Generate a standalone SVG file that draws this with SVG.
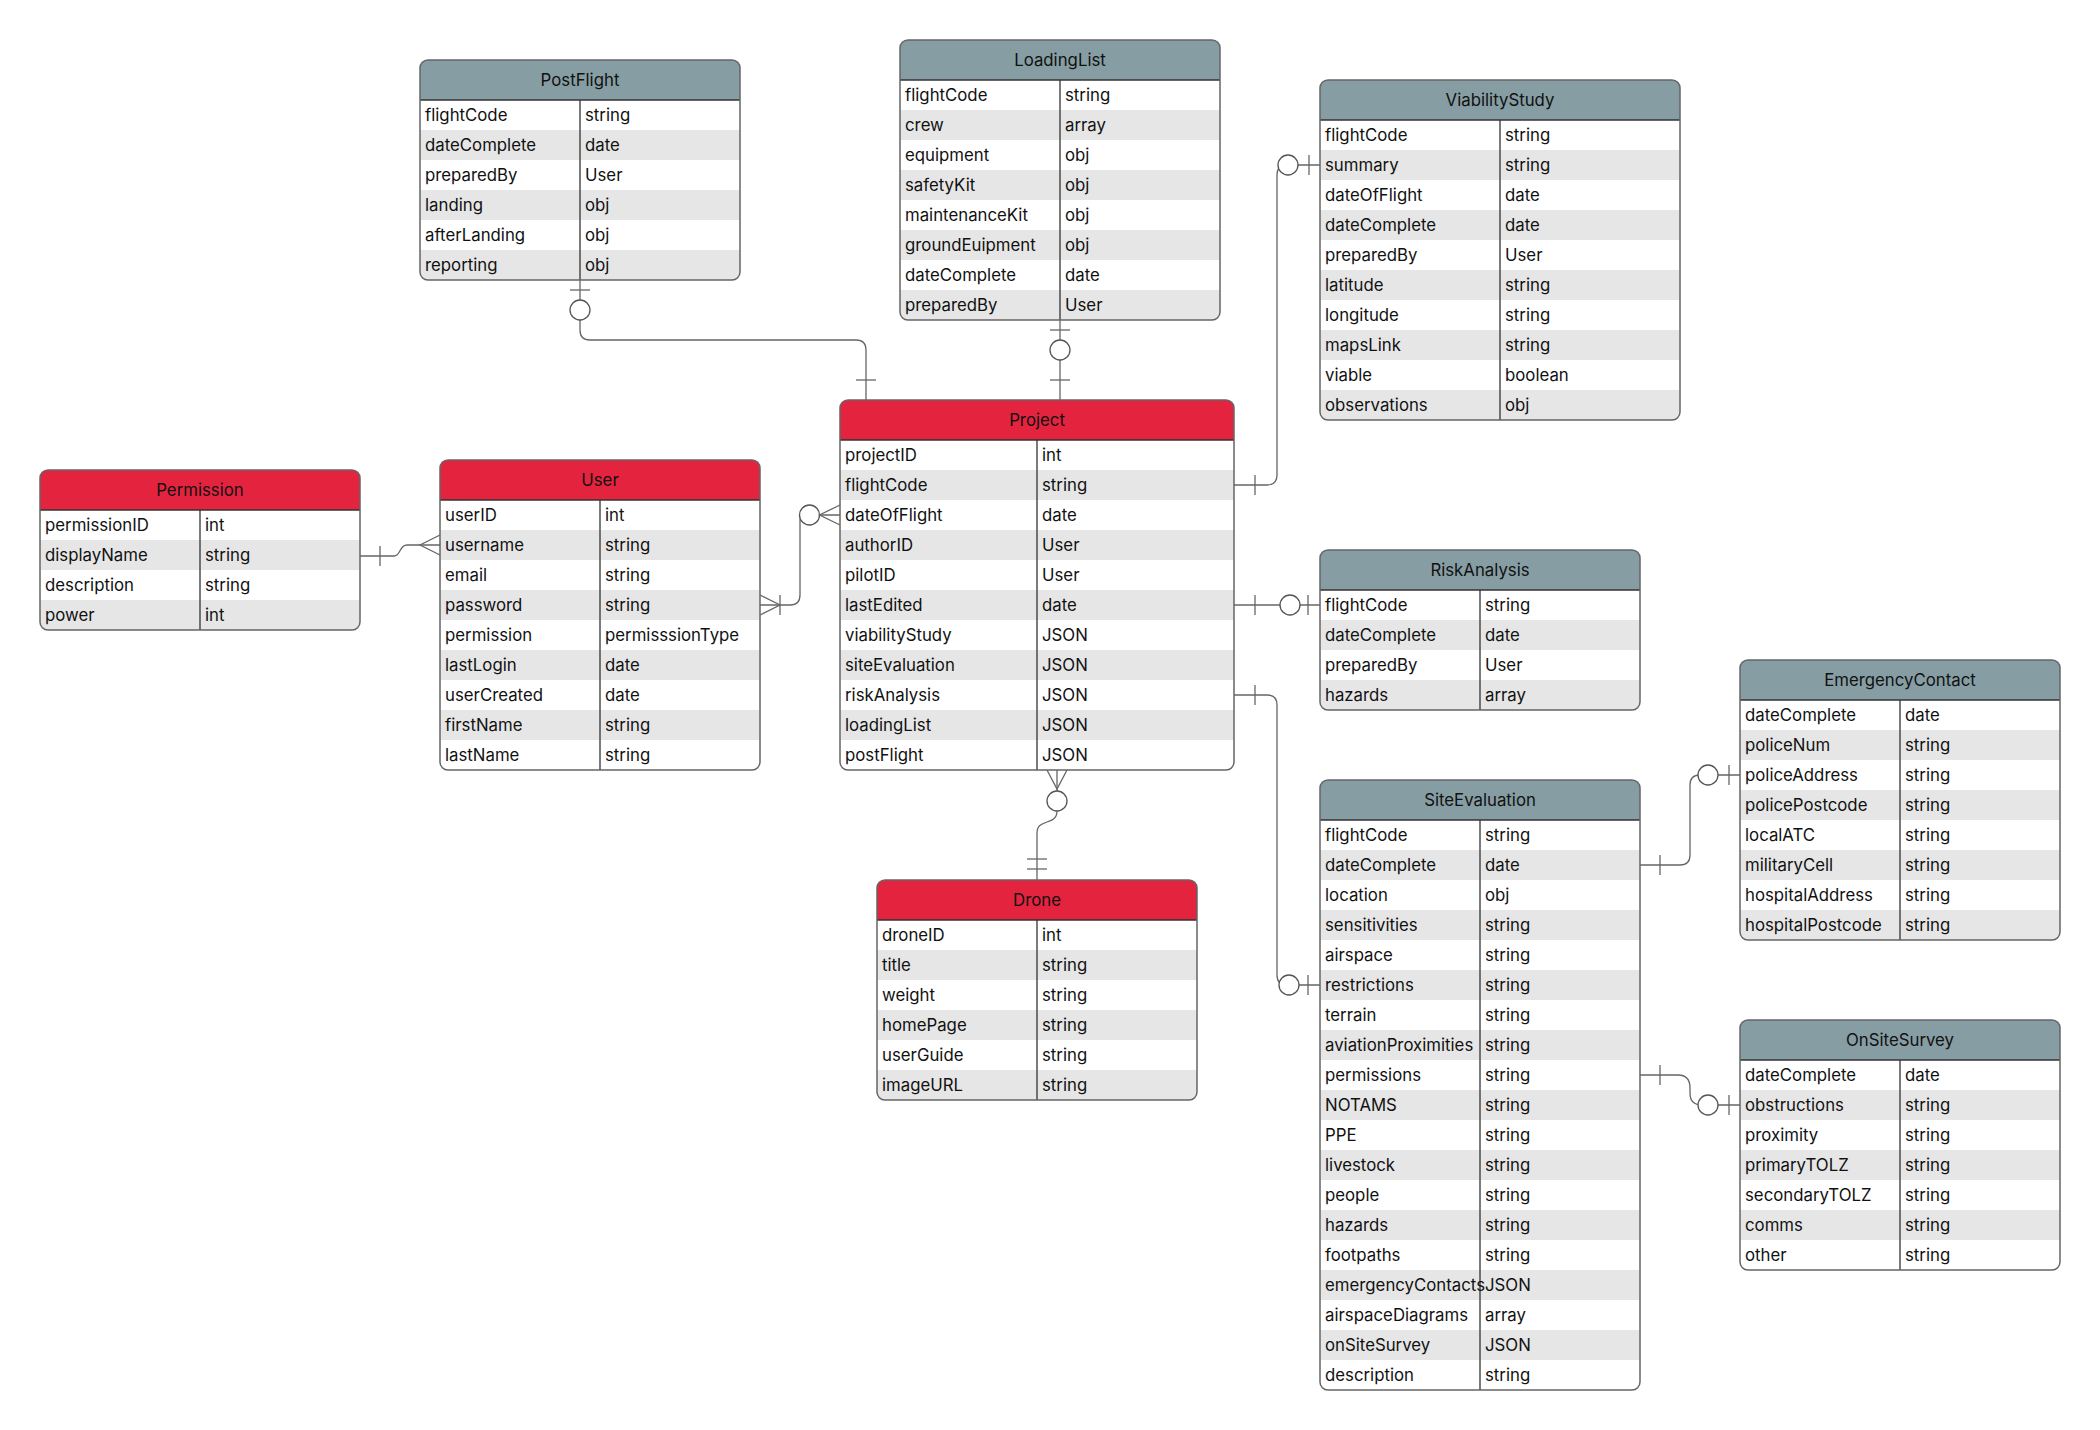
<svg xmlns="http://www.w3.org/2000/svg" width="2100" height="1430" viewBox="0 0 2100 1430">
<style>
.bg{fill:#ffffff}
.hr{fill:#E4233F}
.hg{fill:#869EA3}
.alt{fill:#E6E6E6}
.bd{fill:none;stroke:#666;stroke-width:1.5}
.ln{stroke:#333;stroke-width:1.3}
.t{font-family:Inter,"Liberation Sans",sans-serif;font-size:16.8px;fill:#111}
.h{text-anchor:middle}
.conn{fill:none;stroke:#666;stroke-width:1.3}
.ci{fill:#fff;stroke:#555;stroke-width:1.3}
</style>
<defs>
<clipPath id="c220"><rect width="320" height="220" rx="8"/></clipPath>
<clipPath id="c280"><rect width="320" height="280" rx="8"/></clipPath>
<clipPath id="c340"><rect width="360" height="340" rx="8"/></clipPath>
<clipPath id="c160"><rect width="320" height="160" rx="8"/></clipPath>
<clipPath id="c310"><rect width="320" height="310" rx="8"/></clipPath>
<clipPath id="c370"><rect width="394" height="370" rx="8"/></clipPath>
<clipPath id="c610"><rect width="320" height="610" rx="8"/></clipPath>
<clipPath id="c250"><rect width="320" height="250" rx="8"/></clipPath>
</defs>
<rect width="2100" height="1430" fill="#fff"/>

<g id="connectors">
<path class="conn" d="M580,280 V330 Q580,340 590,340 H856 Q866,340 866,350 V400"/>
<line class="conn" x1="570" y1="290" x2="590" y2="290"/>
<circle class="ci" cx="580" cy="310" r="10"/>
<line class="conn" x1="856" y1="380" x2="876" y2="380"/>
<path class="conn" d="M1060,320 V400"/>
<line class="conn" x1="1050" y1="330" x2="1070" y2="330"/>
<circle class="ci" cx="1060" cy="350" r="10"/>
<line class="conn" x1="1050" y1="380" x2="1070" y2="380"/>
<path class="conn" d="M1234,485 H1267 Q1277,485 1277,475 V175 Q1277,165 1287,165 H1320"/>
<line class="conn" x1="1255" y1="475" x2="1255" y2="495"/>
<circle class="ci" cx="1288" cy="165" r="10"/>
<line class="conn" x1="1309" y1="155" x2="1309" y2="175"/>
<path class="conn" d="M1234,605 H1320"/>
<line class="conn" x1="1255" y1="595" x2="1255" y2="615"/>
<circle class="ci" cx="1290" cy="605" r="10"/>
<line class="conn" x1="1308" y1="595" x2="1308" y2="615"/>
<path class="conn" d="M1234,695 H1267 Q1277,695 1277,705 V975 Q1277,985 1287,985 H1320"/>
<line class="conn" x1="1255" y1="685" x2="1255" y2="705"/>
<circle class="ci" cx="1289" cy="985" r="10"/>
<line class="conn" x1="1308" y1="975" x2="1308" y2="995"/>
<path class="conn" d="M1640,865 H1680 Q1690,865 1690,855 V785 Q1690,775 1700,775 H1740"/>
<line class="conn" x1="1660" y1="855" x2="1660" y2="875"/>
<circle class="ci" cx="1708" cy="775" r="10"/>
<line class="conn" x1="1729" y1="765" x2="1729" y2="785"/>
<path class="conn" d="M1640,1075 H1678 Q1690,1075 1690,1088 V1093 Q1690,1105 1702,1105 H1740"/>
<line class="conn" x1="1660" y1="1065" x2="1660" y2="1085"/>
<circle class="ci" cx="1708" cy="1105" r="10"/>
<line class="conn" x1="1729" y1="1095" x2="1729" y2="1115"/>
<path class="conn" d="M360,556 H394 C401,556 399,545 407,545 H440"/>
<line class="conn" x1="380" y1="546" x2="380" y2="566"/>
<path class="conn" d="M440,535 L420,545 L440,555"/>
<path class="conn" d="M760,605 H790 Q800,605 800,595 V522 Q800,515 803,515 H840"/>
<path class="conn" d="M760,595 L780,605 L760,615"/>
<line class="conn" x1="780" y1="595" x2="780" y2="615"/>
<circle class="ci" cx="809.5" cy="515" r="10"/>
<path class="conn" d="M840,505 L819.5,515 L840,525"/>
<path class="conn" d="M1057,770 V791"/>
<path class="conn" d="M1047,770 L1057,789 L1067,770"/>
<circle class="ci" cx="1057" cy="801" r="10"/>
<path class="conn" d="M1057,811 C1057,826 1037,818 1037,833 V880"/>
<line class="conn" x1="1027" y1="859" x2="1047" y2="859"/>
<line class="conn" x1="1027" y1="869" x2="1047" y2="869"/>
</g>

<g id="PostFlight" transform="translate(420,60)">
<g clip-path="url(#c220)"><rect class="bg" width="320" height="220"/><rect class="hg" width="320" height="40"/>
<rect class="alt" y="70" width="320" height="30"/><rect class="alt" y="130" width="320" height="30"/><rect class="alt" y="190" width="320" height="30"/></g>
<line class="ln" x1="0" y1="40" x2="320" y2="40"/><line class="ln" x1="160" y1="40" x2="160" y2="220"/>
<rect class="bd" width="320" height="220" rx="8"/>
<text class="t h" x="160" y="26">PostFlight</text>
<text class="t" x="5" y="61">flightCode</text><text class="t" x="165" y="61">string</text>
<text class="t" x="5" y="91">dateComplete</text><text class="t" x="165" y="91">date</text>
<text class="t" x="5" y="121">preparedBy</text><text class="t" x="165" y="121">User</text>
<text class="t" x="5" y="151">landing</text><text class="t" x="165" y="151">obj</text>
<text class="t" x="5" y="181">afterLanding</text><text class="t" x="165" y="181">obj</text>
<text class="t" x="5" y="211">reporting</text><text class="t" x="165" y="211">obj</text>
</g>

<g id="LoadingList" transform="translate(900,40)">
<g clip-path="url(#c280)"><rect class="bg" width="320" height="280"/><rect class="hg" width="320" height="40"/>
<rect class="alt" y="70" width="320" height="30"/><rect class="alt" y="130" width="320" height="30"/><rect class="alt" y="190" width="320" height="30"/><rect class="alt" y="250" width="320" height="30"/></g>
<line class="ln" x1="0" y1="40" x2="320" y2="40"/><line class="ln" x1="160" y1="40" x2="160" y2="280"/>
<rect class="bd" width="320" height="280" rx="8"/>
<text class="t h" x="160" y="26">LoadingList</text>
<text class="t" x="5" y="61">flightCode</text><text class="t" x="165" y="61">string</text>
<text class="t" x="5" y="91">crew</text><text class="t" x="165" y="91">array</text>
<text class="t" x="5" y="121">equipment</text><text class="t" x="165" y="121">obj</text>
<text class="t" x="5" y="151">safetyKit</text><text class="t" x="165" y="151">obj</text>
<text class="t" x="5" y="181">maintenanceKit</text><text class="t" x="165" y="181">obj</text>
<text class="t" x="5" y="211">groundEuipment</text><text class="t" x="165" y="211">obj</text>
<text class="t" x="5" y="241">dateComplete</text><text class="t" x="165" y="241">date</text>
<text class="t" x="5" y="271">preparedBy</text><text class="t" x="165" y="271">User</text>
</g>

<g id="ViabilityStudy" transform="translate(1320,80)">
<g clip-path="url(#c340)"><rect class="bg" width="360" height="340"/><rect class="hg" width="360" height="40"/>
<rect class="alt" y="70" width="360" height="30"/><rect class="alt" y="130" width="360" height="30"/><rect class="alt" y="190" width="360" height="30"/><rect class="alt" y="250" width="360" height="30"/><rect class="alt" y="310" width="360" height="30"/></g>
<line class="ln" x1="0" y1="40" x2="360" y2="40"/><line class="ln" x1="180" y1="40" x2="180" y2="340"/>
<rect class="bd" width="360" height="340" rx="8"/>
<text class="t h" x="180" y="26">ViabilityStudy</text>
<text class="t" x="5" y="61">flightCode</text><text class="t" x="185" y="61">string</text>
<text class="t" x="5" y="91">summary</text><text class="t" x="185" y="91">string</text>
<text class="t" x="5" y="121">dateOfFlight</text><text class="t" x="185" y="121">date</text>
<text class="t" x="5" y="151">dateComplete</text><text class="t" x="185" y="151">date</text>
<text class="t" x="5" y="181">preparedBy</text><text class="t" x="185" y="181">User</text>
<text class="t" x="5" y="211">latitude</text><text class="t" x="185" y="211">string</text>
<text class="t" x="5" y="241">longitude</text><text class="t" x="185" y="241">string</text>
<text class="t" x="5" y="271">mapsLink</text><text class="t" x="185" y="271">string</text>
<text class="t" x="5" y="301">viable</text><text class="t" x="185" y="301">boolean</text>
<text class="t" x="5" y="331">observations</text><text class="t" x="185" y="331">obj</text>
</g>

<g id="Permission" transform="translate(40,470)">
<g clip-path="url(#c160)"><rect class="bg" width="320" height="160"/><rect class="hr" width="320" height="40"/>
<rect class="alt" y="70" width="320" height="30"/><rect class="alt" y="130" width="320" height="30"/></g>
<line class="ln" x1="0" y1="40" x2="320" y2="40"/><line class="ln" x1="160" y1="40" x2="160" y2="160"/>
<rect class="bd" width="320" height="160" rx="8"/>
<text class="t h" x="160" y="26">Permission</text>
<text class="t" x="5" y="61">permissionID</text><text class="t" x="165" y="61">int</text>
<text class="t" x="5" y="91">displayName</text><text class="t" x="165" y="91">string</text>
<text class="t" x="5" y="121">description</text><text class="t" x="165" y="121">string</text>
<text class="t" x="5" y="151">power</text><text class="t" x="165" y="151">int</text>
</g>

<g id="User" transform="translate(440,460)">
<g clip-path="url(#c310)"><rect class="bg" width="320" height="310"/><rect class="hr" width="320" height="40"/>
<rect class="alt" y="70" width="320" height="30"/><rect class="alt" y="130" width="320" height="30"/><rect class="alt" y="190" width="320" height="30"/><rect class="alt" y="250" width="320" height="30"/></g>
<line class="ln" x1="0" y1="40" x2="320" y2="40"/><line class="ln" x1="160" y1="40" x2="160" y2="310"/>
<rect class="bd" width="320" height="310" rx="8"/>
<text class="t h" x="160" y="26">User</text>
<text class="t" x="5" y="61">userID</text><text class="t" x="165" y="61">int</text>
<text class="t" x="5" y="91">username</text><text class="t" x="165" y="91">string</text>
<text class="t" x="5" y="121">email</text><text class="t" x="165" y="121">string</text>
<text class="t" x="5" y="151">password</text><text class="t" x="165" y="151">string</text>
<text class="t" x="5" y="181">permission</text><text class="t" x="165" y="181">permisssionType</text>
<text class="t" x="5" y="211">lastLogin</text><text class="t" x="165" y="211">date</text>
<text class="t" x="5" y="241">userCreated</text><text class="t" x="165" y="241">date</text>
<text class="t" x="5" y="271">firstName</text><text class="t" x="165" y="271">string</text>
<text class="t" x="5" y="301">lastName</text><text class="t" x="165" y="301">string</text>
</g>

<g id="Project" transform="translate(840,400)">
<g clip-path="url(#c370)"><rect class="bg" width="394" height="370"/><rect class="hr" width="394" height="40"/>
<rect class="alt" y="70" width="394" height="30"/><rect class="alt" y="130" width="394" height="30"/><rect class="alt" y="190" width="394" height="30"/><rect class="alt" y="250" width="394" height="30"/><rect class="alt" y="310" width="394" height="30"/></g>
<line class="ln" x1="0" y1="40" x2="394" y2="40"/><line class="ln" x1="197" y1="40" x2="197" y2="370"/>
<rect class="bd" width="394" height="370" rx="8"/>
<text class="t h" x="197" y="26">Project</text>
<text class="t" x="5" y="61">projectID</text><text class="t" x="202" y="61">int</text>
<text class="t" x="5" y="91">flightCode</text><text class="t" x="202" y="91">string</text>
<text class="t" x="5" y="121">dateOfFlight</text><text class="t" x="202" y="121">date</text>
<text class="t" x="5" y="151">authorID</text><text class="t" x="202" y="151">User</text>
<text class="t" x="5" y="181">pilotID</text><text class="t" x="202" y="181">User</text>
<text class="t" x="5" y="211">lastEdited</text><text class="t" x="202" y="211">date</text>
<text class="t" x="5" y="241">viabilityStudy</text><text class="t" x="202" y="241">JSON</text>
<text class="t" x="5" y="271">siteEvaluation</text><text class="t" x="202" y="271">JSON</text>
<text class="t" x="5" y="301">riskAnalysis</text><text class="t" x="202" y="301">JSON</text>
<text class="t" x="5" y="331">loadingList</text><text class="t" x="202" y="331">JSON</text>
<text class="t" x="5" y="361">postFlight</text><text class="t" x="202" y="361">JSON</text>
</g>

<g id="RiskAnalysis" transform="translate(1320,550)">
<g clip-path="url(#c160)"><rect class="bg" width="320" height="160"/><rect class="hg" width="320" height="40"/>
<rect class="alt" y="70" width="320" height="30"/><rect class="alt" y="130" width="320" height="30"/></g>
<line class="ln" x1="0" y1="40" x2="320" y2="40"/><line class="ln" x1="160" y1="40" x2="160" y2="160"/>
<rect class="bd" width="320" height="160" rx="8"/>
<text class="t h" x="160" y="26">RiskAnalysis</text>
<text class="t" x="5" y="61">flightCode</text><text class="t" x="165" y="61">string</text>
<text class="t" x="5" y="91">dateComplete</text><text class="t" x="165" y="91">date</text>
<text class="t" x="5" y="121">preparedBy</text><text class="t" x="165" y="121">User</text>
<text class="t" x="5" y="151">hazards</text><text class="t" x="165" y="151">array</text>
</g>

<g id="Drone" transform="translate(877,880)">
<g clip-path="url(#c220)"><rect class="bg" width="320" height="220"/><rect class="hr" width="320" height="40"/>
<rect class="alt" y="70" width="320" height="30"/><rect class="alt" y="130" width="320" height="30"/><rect class="alt" y="190" width="320" height="30"/></g>
<line class="ln" x1="0" y1="40" x2="320" y2="40"/><line class="ln" x1="160" y1="40" x2="160" y2="220"/>
<rect class="bd" width="320" height="220" rx="8"/>
<text class="t h" x="160" y="26">Drone</text>
<text class="t" x="5" y="61">droneID</text><text class="t" x="165" y="61">int</text>
<text class="t" x="5" y="91">title</text><text class="t" x="165" y="91">string</text>
<text class="t" x="5" y="121">weight</text><text class="t" x="165" y="121">string</text>
<text class="t" x="5" y="151">homePage</text><text class="t" x="165" y="151">string</text>
<text class="t" x="5" y="181">userGuide</text><text class="t" x="165" y="181">string</text>
<text class="t" x="5" y="211">imageURL</text><text class="t" x="165" y="211">string</text>
</g>

<g id="SiteEvaluation" transform="translate(1320,780)">
<g clip-path="url(#c610)"><rect class="bg" width="320" height="610"/><rect class="hg" width="320" height="40"/>
<rect class="alt" y="70" width="320" height="30"/><rect class="alt" y="130" width="320" height="30"/><rect class="alt" y="190" width="320" height="30"/><rect class="alt" y="250" width="320" height="30"/><rect class="alt" y="310" width="320" height="30"/><rect class="alt" y="370" width="320" height="30"/><rect class="alt" y="430" width="320" height="30"/><rect class="alt" y="490" width="320" height="30"/><rect class="alt" y="550" width="320" height="30"/></g>
<line class="ln" x1="0" y1="40" x2="320" y2="40"/><line class="ln" x1="160" y1="40" x2="160" y2="610"/>
<rect class="bd" width="320" height="610" rx="8"/>
<text class="t h" x="160" y="26">SiteEvaluation</text>
<text class="t" x="5" y="61">flightCode</text><text class="t" x="165" y="61">string</text>
<text class="t" x="5" y="91">dateComplete</text><text class="t" x="165" y="91">date</text>
<text class="t" x="5" y="121">location</text><text class="t" x="165" y="121">obj</text>
<text class="t" x="5" y="151">sensitivities</text><text class="t" x="165" y="151">string</text>
<text class="t" x="5" y="181">airspace</text><text class="t" x="165" y="181">string</text>
<text class="t" x="5" y="211">restrictions</text><text class="t" x="165" y="211">string</text>
<text class="t" x="5" y="241">terrain</text><text class="t" x="165" y="241">string</text>
<text class="t" x="5" y="271">aviationProximities</text><text class="t" x="165" y="271">string</text>
<text class="t" x="5" y="301">permissions</text><text class="t" x="165" y="301">string</text>
<text class="t" x="5" y="331">NOTAMS</text><text class="t" x="165" y="331">string</text>
<text class="t" x="5" y="361">PPE</text><text class="t" x="165" y="361">string</text>
<text class="t" x="5" y="391">livestock</text><text class="t" x="165" y="391">string</text>
<text class="t" x="5" y="421">people</text><text class="t" x="165" y="421">string</text>
<text class="t" x="5" y="451">hazards</text><text class="t" x="165" y="451">string</text>
<text class="t" x="5" y="481">footpaths</text><text class="t" x="165" y="481">string</text>
<text class="t" x="5" y="511">emergencyContacts</text><text class="t" x="165" y="511">JSON</text>
<text class="t" x="5" y="541">airspaceDiagrams</text><text class="t" x="165" y="541">array</text>
<text class="t" x="5" y="571">onSiteSurvey</text><text class="t" x="165" y="571">JSON</text>
<text class="t" x="5" y="601">description</text><text class="t" x="165" y="601">string</text>
</g>

<g id="EmergencyContact" transform="translate(1740,660)">
<g clip-path="url(#c280)"><rect class="bg" width="320" height="280"/><rect class="hg" width="320" height="40"/>
<rect class="alt" y="70" width="320" height="30"/><rect class="alt" y="130" width="320" height="30"/><rect class="alt" y="190" width="320" height="30"/><rect class="alt" y="250" width="320" height="30"/></g>
<line class="ln" x1="0" y1="40" x2="320" y2="40"/><line class="ln" x1="160" y1="40" x2="160" y2="280"/>
<rect class="bd" width="320" height="280" rx="8"/>
<text class="t h" x="160" y="26">EmergencyContact</text>
<text class="t" x="5" y="61">dateComplete</text><text class="t" x="165" y="61">date</text>
<text class="t" x="5" y="91">policeNum</text><text class="t" x="165" y="91">string</text>
<text class="t" x="5" y="121">policeAddress</text><text class="t" x="165" y="121">string</text>
<text class="t" x="5" y="151">policePostcode</text><text class="t" x="165" y="151">string</text>
<text class="t" x="5" y="181">localATC</text><text class="t" x="165" y="181">string</text>
<text class="t" x="5" y="211">militaryCell</text><text class="t" x="165" y="211">string</text>
<text class="t" x="5" y="241">hospitalAddress</text><text class="t" x="165" y="241">string</text>
<text class="t" x="5" y="271">hospitalPostcode</text><text class="t" x="165" y="271">string</text>
</g>

<g id="OnSiteSurvey" transform="translate(1740,1020)">
<g clip-path="url(#c250)"><rect class="bg" width="320" height="250"/><rect class="hg" width="320" height="40"/>
<rect class="alt" y="70" width="320" height="30"/><rect class="alt" y="130" width="320" height="30"/><rect class="alt" y="190" width="320" height="30"/></g>
<line class="ln" x1="0" y1="40" x2="320" y2="40"/><line class="ln" x1="160" y1="40" x2="160" y2="250"/>
<rect class="bd" width="320" height="250" rx="8"/>
<text class="t h" x="160" y="26">OnSiteSurvey</text>
<text class="t" x="5" y="61">dateComplete</text><text class="t" x="165" y="61">date</text>
<text class="t" x="5" y="91">obstructions</text><text class="t" x="165" y="91">string</text>
<text class="t" x="5" y="121">proximity</text><text class="t" x="165" y="121">string</text>
<text class="t" x="5" y="151">primaryTOLZ</text><text class="t" x="165" y="151">string</text>
<text class="t" x="5" y="181">secondaryTOLZ</text><text class="t" x="165" y="181">string</text>
<text class="t" x="5" y="211">comms</text><text class="t" x="165" y="211">string</text>
<text class="t" x="5" y="241">other</text><text class="t" x="165" y="241">string</text>
</g>
</svg>
